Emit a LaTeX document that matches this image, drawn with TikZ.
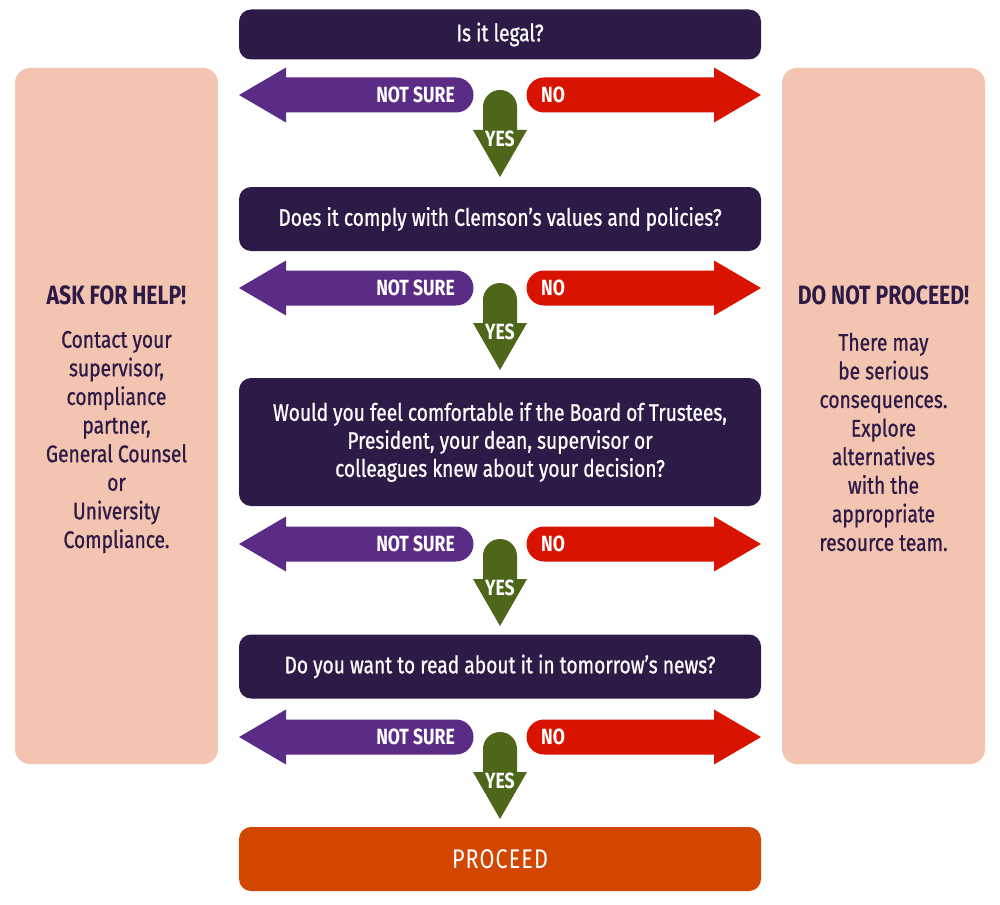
\documentclass[tikz,border=0pt]{standalone}
\usepackage{fontspec}
\setmainfont{Fira Sans}[FakeStretch=0.8]
\newfontfamily\medfont{Fira Sans}[FakeStretch=0.8,FakeBold=0.8]
\definecolor{cdark}{HTML}{2E1A47}
\definecolor{cpurple}{HTML}{5B2C86}
\definecolor{cred}{HTML}{D81300}
\definecolor{cgreen}{HTML}{4D661A}
\definecolor{corange}{HTML}{D24600}
\definecolor{cpeach}{HTML}{F3C5B0}
\begin{document}
\begin{tikzpicture}[x=1pt,y=-1pt,
  qbox/.style={fill=cdark, rounded corners=12pt, text=white, minimum width=522pt,
    align=center, font=\medfont\fontsize{24}{28}\selectfont, inner sep=0pt},
  panel/.style={fill=cpeach, rounded corners=15pt, minimum width=203pt, minimum height=696pt, inner sep=0pt},
  ptitle/.style={text=cdark, font=\fontsize{26.5}{28}\selectfont\bfseries},
  pbody/.style={text=cdark, align=center, font=\medfont\fontsize{24}{28.6}\selectfont},
  lbl/.style={text=white, font=\fontsize{22}{24}\selectfont\bfseries, inner sep=0pt}
]
\useasboundingbox (0,0) rectangle (1000,904);
\fill[white] (0,0) rectangle (1000,904);

% side panels
\node[panel] (help) at (116.5,416) {};
\node[panel] (stop) at (883.5,416) {};
\node[ptitle] (helpt) at (116.5,295) {ASK FOR HELP!};
\node[ptitle] (stopt) at (883.5,295) {DO NOT PROCEED!};
\node[pbody] (helpb) at (116.5,442) {Contact your\\supervisor,\\compliance\\partner,\\General Counsel\\or\\University\\Compliance.};
\node[pbody] (stopb) at (883.5,442) {There may\\be serious\\consequences.\\Explore\\alternatives\\with the\\appropriate\\resource team.};

% question boxes
\node[qbox, minimum height=50pt] (q1) at (500,34.5) {Is it legal?};
\node[qbox, minimum height=64pt] (q2) at (500,219) {Does it comply with Clemson’s values and policies?};
\node[qbox, minimum height=128pt] (q3) at (500,442) {Would you feel comfortable if the Board of Trustees,\\President, your dean, supervisor or\\colleagues knew about your decision?};
\node[qbox, minimum height=64pt] (q4) at (500,666.5) {Do you want to read about it in tomorrow’s news?};
\node[qbox, fill=corange, minimum height=64pt, font=\fontsize{27}{28}\selectfont\addfontfeatures{LetterSpace=4}] (go) at (500,859) {PROCEED};

% arrow rows
\foreach \c in {95,288,544,737}{
  \fill[cpurple] (239,\c) -- (286,\c-27.5) -- (286,\c-17.5) -- (456,\c-17.5)
     arc[start angle=-90, end angle=90, radius=17.5] -- (286,\c+17.5) -- (286,\c+27.5) -- cycle;
  \fill[cred] (761,\c) -- (714,\c-27.5) -- (714,\c-17.5) -- (544,\c-17.5)
     arc[start angle=270, end angle=90, radius=17.5] -- (714,\c+17.5) -- (714,\c+27.5) -- cycle;
  \fill[cgreen] (483,\c+12) arc[start angle=180, end angle=360, radius=17]
     -- (517,\c+35) -- (527,\c+35) -- (500,\c+82) -- (473,\c+35) -- (483,\c+35) -- cycle;
  \node[lbl, anchor=east] (ns\c) at (455,\c) {NOT SURE};
  \node[lbl, anchor=west] (no\c) at (541,\c) {NO};
  \node[lbl] (yes\c) at (500,\c+44) {YES};
}
\end{tikzpicture}
\end{document}
